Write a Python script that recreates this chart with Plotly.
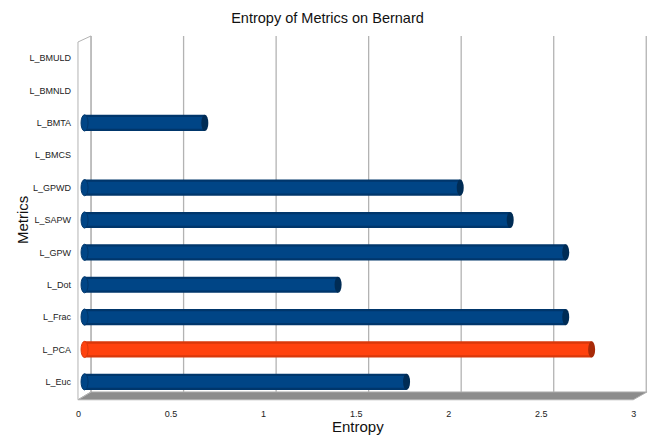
import plotly.graph_objects as go

# Entropy per metric (bottom to top as drawn)
metrics = ["L_Euc", "L_PCA", "L_Frac", "L_Dot", "L_GPW", "L_SAPW",
           "L_GPWD", "L_BMCS", "L_BMTA", "L_BMNLD", "L_BMULD"]
entropy = [1.74, 2.74, 2.60, 1.37, 2.60, 2.30, 2.03, 0.0, 0.65, 0.0, 0.0]
highlight = "L_PCA"

x_ticks = [0, 0.5, 1, 1.5, 2, 2.5, 3]
x_tick_text = ["0", "0.5", "1", "1.5", "2", "2.5", "3"]

BLUE, BLUE_DARK, BLUE_CAP = "#004586", "#00366b", "#002c55"
RED, RED_DARK, RED_CAP = "#ff420e", "#d9380b", "#a82a08"

main_col = [RED if m == highlight else BLUE for m in metrics]
edge_col = [RED_DARK if m == highlight else BLUE_DARK for m in metrics]
cap_col = [RED_CAP if m == highlight else BLUE_CAP for m in metrics]

fig = go.Figure()
# darker outer shell of each cylinder
fig.add_trace(go.Bar(y=metrics, x=entropy, orientation="h", width=0.5,
                     marker=dict(color=edge_col, line=dict(width=0)),
                     hoverinfo="skip", showlegend=False))
# lighter body
fig.add_trace(go.Bar(y=metrics, x=entropy, orientation="h", width=0.36,
                     marker=dict(color=main_col, line=dict(width=0)),
                     showlegend=False))

shapes = []
# back-wall gridlines, shifted for the depth effect
depth = 6.5 / 185.0
for t in x_ticks:
    shapes.append(dict(type="line", xref="x", yref="paper",
                       x0=t + depth, x1=t + depth, y0=0.017, y1=1.017,
                       line=dict(color="#b3b3b3", width=1.3), layer="below"))
# floor slab
shapes.append(dict(type="path", xref="paper", yref="paper",
                   path="M -0.0018 -0.005 L 0.9723 -0.005 L 0.9966 0.017 L 0.0211 0.017 Z",
                   fillcolor="#8c8c8c", line=dict(color="#b0b0b0", width=1),
                   layer="below"))
# left wall outline
shapes.append(dict(type="path", xref="paper", yref="paper",
                   path="M -0.0018 -0.005 L -0.0018 1.0 L 0.0211 1.017 L 0.0211 0.017 Z",
                   fillcolor="rgba(0,0,0,0)", line=dict(color="#b3b3b3", width=1),
                   layer="below"))

# rounded ends of the cylinders
for i, (m, v) in enumerate(zip(metrics, entropy)):
    if v <= 0:
        continue
    shapes.append(dict(type="circle", xref="x", yref="y",
                       xsizemode="pixel", xanchor=0, x0=-3.5, x1=3.5,
                       y0=i - 0.25, y1=i + 0.25,
                       fillcolor=main_col[i], line=dict(color=edge_col[i], width=1),
                       layer="above"))
    shapes.append(dict(type="circle", xref="x", yref="y",
                       xsizemode="pixel", xanchor=v, x0=-3.5, x1=3.5,
                       y0=i - 0.25, y1=i + 0.25,
                       fillcolor=cap_col[i], line=dict(width=0), layer="above"))

fig.update_layout(
    width=655, height=435,
    margin=dict(l=79, r=6, t=42, b=37),
    paper_bgcolor="white", plot_bgcolor="white",
    barmode="overlay",
    font=dict(family="Liberation Sans, Arial, sans-serif", color="#222"),
    title=dict(text="Entropy of Metrics on Bernard", x=0.5, xanchor="center",
               y=0.958, yanchor="middle", font=dict(size=14.5, color="#111")),
    shapes=shapes,
    annotations=[
        dict(text="Entropy", xref="paper", yref="paper", x=0.49, y=0,
             xanchor="center", yanchor="middle", yshift=-28, showarrow=False,
             font=dict(size=15, color="#111")),
        dict(text="Metrics", xref="paper", yref="paper", x=0, y=0.5,
             xanchor="center", yanchor="middle", xshift=-57, textangle=-90,
             showarrow=False, font=dict(size=15, color="#111")),
    ],
    xaxis=dict(range=[-0.03, 3.05], tickvals=x_ticks, ticktext=x_tick_text,
               showgrid=False, zeroline=False, showline=False, ticks="",
               tickfont=dict(size=9, color="#222"), ticklabelshift=-6,
               ticklabelstandoff=9, automargin=False),
    yaxis=dict(categoryorder="array", categoryarray=metrics,
               range=[-0.5, len(metrics) - 0.5],
               showgrid=False, zeroline=False, showline=False, ticks="",
               tickfont=dict(size=9, color="#222"), ticklabelstandoff=7,
               automargin=False),
)

fig.write_html("out.html")
